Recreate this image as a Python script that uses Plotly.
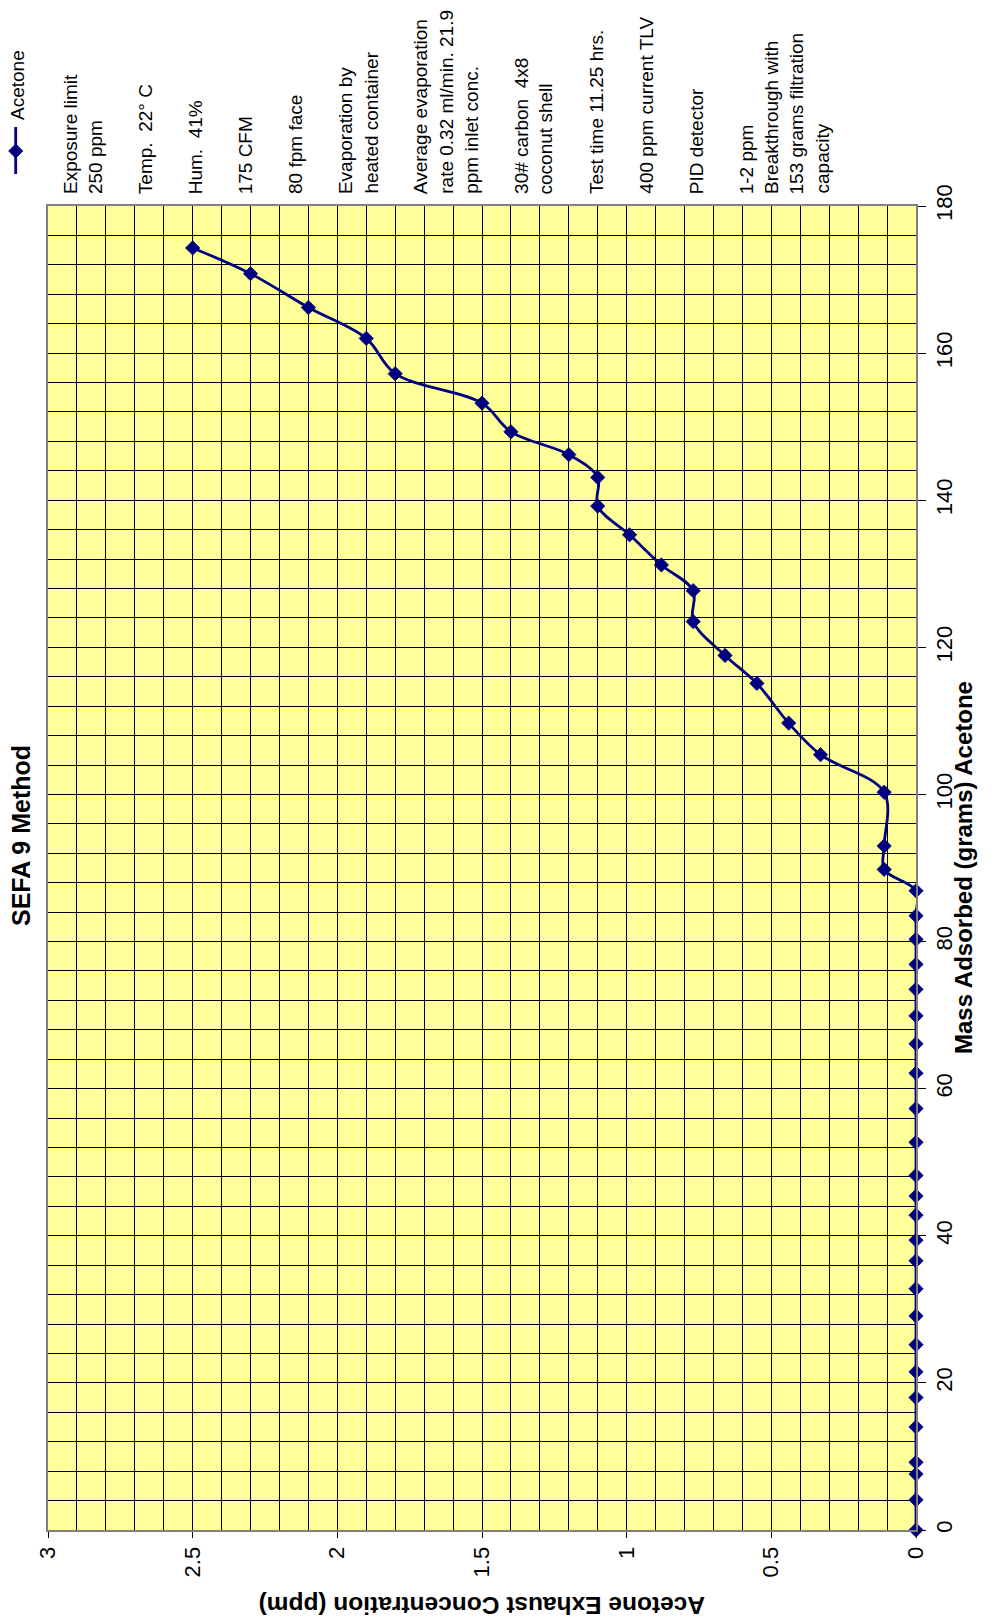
import plotly.graph_objects as go

# ---- data ----
mass_g = [0, 4.1, 7.6, 9.2, 14.0, 18.0, 21.5, 25.2, 29.1, 32.8, 36.6, 39.4, 42.8,
          45.4, 48.2, 52.7, 57.3, 62.1, 66.1, 69.9, 73.5, 76.9, 80.3, 83.5, 86.9,
          89.8, 93.0, 100.3, 105.4, 109.7, 115.1, 118.9, 123.5, 127.7, 131.2,
          135.3, 139.2, 143.1, 146.2, 149.3, 153.2, 157.2, 162.0, 166.2, 170.8, 174.3]
conc_ppm = [0] * 25 + [0.11, 0.11, 0.11, 0.33, 0.44, 0.55, 0.66, 0.77, 0.77, 0.88,
                       0.99, 1.1, 1.1, 1.2, 1.4, 1.5, 1.8, 1.9, 2.1, 2.3, 2.5]
series_name = "Acetone"
title_text = "SEFA 9 Method"
x_title = "Mass Adsorbed (grams) Acetone"
y_title = "Acetone Exhaust Concentration (ppm)"
notes = ["Exposure limit", "250 ppm", "", "Temp.  22° C", "", "Hum.  41%", "",
         "175 CFM", "", "80 fpm face", "", "Evaporation by", "heated container", "",
         "Average evaporation", "rate 0.32 ml/min. 21.9", "ppm inlet conc.", "",
         "30# carbon  4x8", "coconut shell", "", "Test time 11.25 hrs.", "",
         "400 ppm current TLV", "", "PID detector", "", "1-2 ppm",
         "Breakthrough with", "153 grams filtration", "capacity"]

# ---- layout geometry ----
OFF = 8                      # default page (body) margin of the html page
W, H = 1000, 1616            # figure size
L, R, T, B = 40, 908, 198, 1522   # plot area in figure pixels
PW, PH = R - L, B - T
FONT = "Arial, Liberation Sans, sans-serif"
NAVY = "#000080"


def px(x):   # page pixel -> paper
    return (x - OFF - L) / PW


def py(y):
    return (B - (y - OFF)) / PH


fig = go.Figure()
fig.add_trace(go.Scatter(
    x=conc_ppm, y=mass_g, mode="lines+markers", name=series_name,
    line=dict(color=NAVY, width=2.8, shape="spline", smoothing=1),
    marker=dict(symbol="diamond", size=11, color=NAVY,
                line=dict(color=NAVY, width=0.8)),
    showlegend=False, cliponaxis=False,
))

grid = dict(showgrid=True, gridcolor="#000000", gridwidth=1)
fig.update_xaxes(
    range=[3, 0], tick0=0, dtick=0.5, tickangle=-90,
    ticks="outside", ticklen=6, tickcolor="#000000",
    showline=True, linecolor="#808080", linewidth=2, mirror=True,
    zeroline=False, tickfont=dict(family=FONT, size=22, color="#000"),
    minor=dict(dtick=0.1, tick0=0, showgrid=True, gridcolor="#000000", gridwidth=1),
    **grid,
)
fig.update_yaxes(
    range=[0, 180], tick0=0, dtick=20, side="right", tickangle=-90,
    ticks="outside", ticklen=8, tickcolor="#000000",
    showline=True, linecolor="#808080", linewidth=2, mirror=True,
    zeroline=False, tickfont=dict(family=FONT, size=22, color="#000"),
    minor=dict(dtick=4, tick0=0, showgrid=True, gridcolor="#000000", gridwidth=1),
    **grid,
)

ann = []
ann.append(dict(text="<b>" + title_text + "</b>", x=px(21), y=py(836), textangle=-90,
                font=dict(family=FONT, size=25, color="#000")))
ann.append(dict(text="<b>" + x_title + "</b>", x=px(963), y=py(868), textangle=-90,
                font=dict(family=FONT, size=24, color="#000")))
ann.append(dict(text="<b>" + y_title + "</b>", x=px(482), y=py(1606), textangle=180,
                font=dict(family=FONT, size=24.5, color="#000")))
# notes column (each line rotated, start aligned at the bottom)
x0, step = 70, 25.05
for i, line in enumerate(notes):
    if not line:
        continue
    ann.append(dict(text=line, x=px(x0 + i * step), y=py(196), textangle=-90,
                    xanchor="center", yanchor="bottom",
                    font=dict(family=FONT, size=19, color="#000")))
# legend label
ann.append(dict(text=series_name, x=px(18), y=py(122), textangle=-90,
                xanchor="center", yanchor="bottom",
                font=dict(family=FONT, size=19, color="#000")))
for a in ann:
    a.setdefault("xanchor", "center")
    a.setdefault("yanchor", "middle")
    a.update(xref="paper", yref="paper", showarrow=False)

# legend symbol (line + diamond)
lx, ly = 15.7, 151
d = 7
shapes = [
    dict(type="line", xref="paper", yref="paper", x0=px(lx), x1=px(lx),
         y0=py(127), y1=py(174), line=dict(color=NAVY, width=2.8)),
    dict(type="path", xref="paper", yref="paper",
         path=f"M {px(lx - d)} {py(ly)} L {px(lx)} {py(ly - d)} L {px(lx + d)} {py(ly)} L {px(lx)} {py(ly + d)} Z",
         fillcolor=NAVY, line=dict(color=NAVY, width=1)),
]

fig.update_layout(
    width=W, height=H,
    margin=dict(l=L, r=W - R, t=T, b=H - B, pad=0),
    paper_bgcolor="#ffffff", plot_bgcolor="#FFFF99",
    font=dict(family=FONT, color="#000"),
    annotations=ann, shapes=shapes, showlegend=False,
)
fig.write_html("out.html")
